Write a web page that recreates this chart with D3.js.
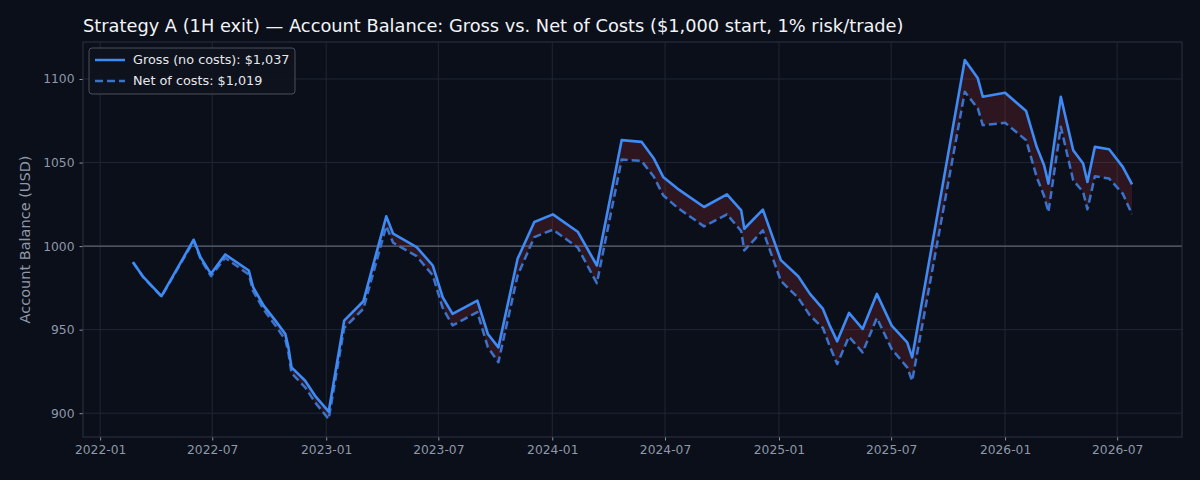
<!DOCTYPE html>
<html>
<head>
<meta charset="utf-8">
<script src="https://cdn.jsdelivr.net/npm/d3@7"></script>
<style>
  html, body { margin: 0; padding: 0; background: #0b0f19; }
  svg { display: block; font-family: "DejaVu Sans", sans-serif; }
</style>
</head>
<body>
<div id="chart"></div>
<script>
// trade dates (equity snapshots)
const dates = [
  "2022-02-23","2022-03-12","2022-04-10","2022-06-01","2022-06-12","2022-06-29","2022-07-22","2022-08-29",
  "2022-09-05","2022-09-22","2022-10-11","2022-10-27","2022-11-01","2022-11-06","2022-11-28","2022-12-14",
  "2023-01-05","2023-01-30","2023-03-02","2023-04-08","2023-04-19","2023-05-27","2023-06-22","2023-07-08",
  "2023-07-24","2023-09-02","2023-09-19","2023-10-06","2023-11-06","2023-12-03","2024-01-02","2024-02-11",
  "2024-03-13","2024-04-22","2024-05-24","2024-06-13","2024-06-28","2024-07-21","2024-09-02","2024-10-09",
  "2024-11-01","2024-11-06","2024-12-06","2025-01-04","2025-02-01","2025-02-20","2025-03-13","2025-03-24",
  "2025-04-05","2025-04-24","2025-05-16","2025-06-08","2025-07-02","2025-07-27","2025-08-04","2025-10-28",
  "2025-11-18","2025-11-26","2026-01-01","2026-02-04","2026-02-21","2026-03-05","2026-03-12","2026-04-01",
  "2026-04-21","2026-05-07","2026-05-14","2026-05-26","2026-06-18","2026-07-10","2026-07-25"
];

const gross = [
  990.4, 981.4, 970.0, 1003.8, 993.4, 983.4, 995.0, 985.4,
  975.4, 964.4, 955.4, 947.4, 939.4, 927.4, 919.4, 910.4,
  901.0, 955.4, 967.0, 1017.8, 1007.4, 999.4, 988.4, 969.4,
  959.4, 967.4, 947.4, 939.4, 992.4, 1014.4, 1019.0, 1008.6,
  988.4, 1063.4, 1062.4, 1052.4, 1041.4, 1034.4, 1023.4, 1031.0,
  1021.4, 1010.4, 1021.8, 991.6, 982.0, 971.4, 962.4, 952.4,
  943.0, 960.0, 950.4, 971.4, 952.4, 942.4, 933.4, 1111.4,
  1100.4, 1089.4, 1091.8, 1080.8, 1059.4, 1048.4, 1037.4, 1089.4,
  1057.4, 1049.4, 1038.4, 1059.4, 1058.0, 1047.4, 1037.0
];

const net = [
  990.4, 981.2, 969.8, 1003.0, 992.5, 982.0, 993.0, 983.0,
  973.0, 962.0, 952.5, 944.0, 936.0, 924.0, 915.5, 906.5,
  896.5, 951.0, 962.5, 1012.0, 1002.0, 994.0, 982.5, 963.0,
  952.5, 960.5, 939.5, 930.5, 982.4, 1005.4, 1009.8, 999.2,
  977.8, 1051.8, 1051.0, 1041.5, 1030.4, 1023.0, 1011.8, 1019.0,
  1009.0, 997.4, 1009.4, 979.2, 969.0, 958.5, 951.0, 940.0,
  929.4, 945.8, 936.4, 957.0, 938.4, 927.4, 919.4, 1092.4,
  1082.4, 1072.4, 1073.8, 1063.4, 1041.4, 1030.0, 1020.4, 1071.4,
  1039.4, 1032.4, 1022.0, 1041.8, 1040.4, 1031.4, 1019.0
];

const xTickLabels = ["2022-01","2022-07","2023-01","2023-07","2024-01","2024-07","2025-01","2025-07","2026-01","2026-07"];
const yTickValues = [900, 950, 1000, 1050, 1100];
const startBalance = 1000;

const W = 1200, H = 480;
const margin = { top: 42, right: 18, bottom: 43, left: 83 };
const width = W - margin.left - margin.right;
const height = H - margin.top - margin.bottom;

const grossColor = "#3d8bf7";
const netColor = "#3a72cc";
const netDash = "8,4";

const parse = d3.timeParse("%Y-%m-%d");
const parseMonth = d3.timeParse("%Y-%m");
const rows = dates.map((d, i) => ({ date: parse(d), gross: gross[i], net: net[i] }));

// matplotlib-style 5% padding around the data
const xExt = d3.extent(rows, d => d.date);
const xPad = (xExt[1] - xExt[0]) * 0.05;
const x = d3.scaleTime()
  .domain([new Date(+xExt[0] - xPad), new Date(+xExt[1] + xPad)])
  .range([0, width]);

const yMin = d3.min(rows, d => Math.min(d.gross, d.net));
const yMax = d3.max(rows, d => Math.max(d.gross, d.net));
const yPad = (yMax - yMin) * 0.05;
const y = d3.scaleLinear()
  .domain([yMin - yPad, yMax + yPad])
  .range([height, 0]);

const svg = d3.select("#chart").append("svg")
  .attr("width", W)
  .attr("height", H);

svg.append("rect").attr("width", W).attr("height", H).attr("fill", "#0b0f19");

svg.append("text")
  .attr("x", margin.left)
  .attr("y", 32)
  .attr("fill", "#f2f4f8")
  .style("font-size", "17.8px")
  .text("Strategy A (1H exit) \u2014 Account Balance: Gross vs. Net of Costs ($1,000 start, 1% risk/trade)");

const g = svg.append("g")
  .attr("transform", "translate(" + margin.left + "," + margin.top + ")");

// grid
const xTicks = xTickLabels.map(parseMonth);
g.append("g").selectAll("line")
  .data(xTicks)
  .enter().append("line")
  .attr("x1", d => x(d)).attr("x2", d => x(d))
  .attr("y1", 0).attr("y2", height)
  .attr("stroke", "#1f2735").attr("stroke-width", 1);

g.append("g").selectAll("line")
  .data(yTickValues)
  .enter().append("line")
  .attr("x1", 0).attr("x2", width)
  .attr("y1", d => y(d)).attr("y2", d => y(d))
  .attr("stroke", "#1f2735").attr("stroke-width", 1);

// start balance reference
g.append("line")
  .attr("x1", 0).attr("x2", width)
  .attr("y1", y(startBalance)).attr("y2", y(startBalance))
  .attr("stroke", "#5c6372").attr("stroke-width", 1.2);

// cost gap fill
const area = d3.area()
  .x(d => x(d.date))
  .y0(d => y(d.net))
  .y1(d => y(d.gross));

g.append("path")
  .datum(rows)
  .attr("d", area)
  .attr("fill", "#ef4444")
  .attr("fill-opacity", 0.15);

const lineNet = d3.line().x(d => x(d.date)).y(d => y(d.net));
const lineGross = d3.line().x(d => x(d.date)).y(d => y(d.gross));

g.append("path")
  .datum(rows)
  .attr("d", lineNet)
  .attr("fill", "none")
  .attr("stroke", netColor)
  .attr("stroke-width", 2.5)
  .attr("stroke-dasharray", netDash)
  .attr("stroke-linejoin", "round");

g.append("path")
  .datum(rows)
  .attr("d", lineGross)
  .attr("fill", "none")
  .attr("stroke", grossColor)
  .attr("stroke-width", 2.6)
  .attr("stroke-linejoin", "round");

// axes
const xAxis = g.append("g")
  .attr("transform", "translate(0," + height + ")")
  .call(d3.axisBottom(x).tickValues(xTicks).tickFormat(d3.timeFormat("%Y-%m")).tickSizeOuter(0).tickSize(3.5).tickPadding(5));

const yAxis = g.append("g")
  .call(d3.axisLeft(y).tickValues(yTickValues).tickFormat(d3.format("d")).tickSizeOuter(0).tickSize(3.5).tickPadding(5));

[xAxis, yAxis].forEach(a => {
  a.select(".domain").remove();
  a.selectAll(".tick line").attr("stroke", "#8a93a3");
  a.selectAll(".tick text")
    .attr("fill", "#8f99aa")
    .style("font-size", "12.3px")
    .style("font-family", "DejaVu Sans, sans-serif");
});

// spines
g.append("rect")
  .attr("width", width).attr("height", height)
  .attr("fill", "none")
  .attr("stroke", "#2a3241")
  .attr("stroke-width", 1);

svg.append("text")
  .attr("transform", "translate(30," + (margin.top + height / 2) + ") rotate(-90)")
  .attr("text-anchor", "middle")
  .attr("fill", "#8f99aa")
  .style("font-size", "14.5px")
  .text("Account Balance (USD)");

// legend
const fmt = d3.format("$,.0f");
const legendItems = [
  { label: "Gross (no costs): " + fmt(gross[gross.length - 1]), color: grossColor, dash: null },
  { label: "Net of costs: " + fmt(net[net.length - 1]), color: netColor, dash: netDash }
];

const legend = g.append("g").attr("transform", "translate(6,6)");
legend.append("rect")
  .attr("width", 206).attr("height", 46)
  .attr("rx", 3).attr("ry", 3)
  .attr("fill", "#0e131e")
  .attr("fill-opacity", 0.9)
  .attr("stroke", "#4a505c")
  .attr("stroke-width", 1);

const li = legend.selectAll(".item")
  .data(legendItems)
  .enter().append("g")
  .attr("class", "item")
  .attr("transform", (d, i) => "translate(0," + (12 + i * 21) + ")");

li.append("line")
  .attr("x1", 6).attr("x2", 36)
  .attr("stroke", d => d.color)
  .attr("stroke-width", 2.5)
  .attr("stroke-dasharray", d => d.dash);

li.append("text")
  .attr("x", 44)
  .attr("dy", "0.35em")
  .attr("fill", "#e6e8ec")
  .style("font-size", "12.8px")
  .text(d => d.label);
</script>
</body>
</html>
